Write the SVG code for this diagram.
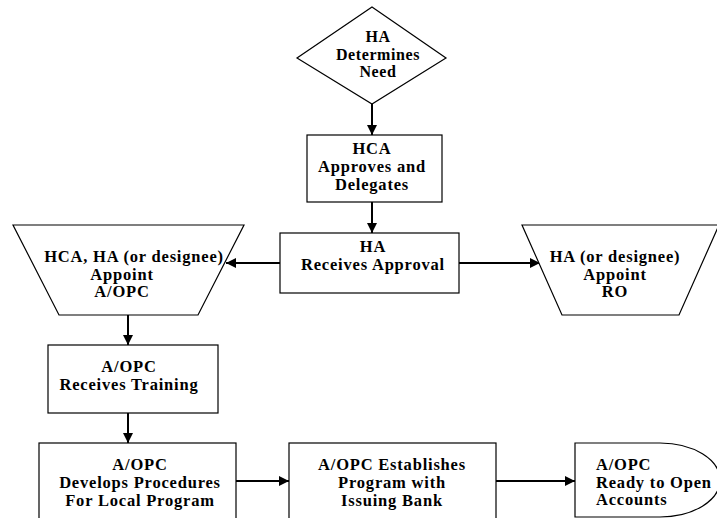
<svg xmlns="http://www.w3.org/2000/svg" width="717" height="518" viewBox="0 0 717 518">
<defs>
<style>
.s{fill:#fff;stroke:#000;stroke-width:1.2}
text{font-family:'Liberation Serif','Times New Roman',Times,serif;font-weight:bold;font-size:16.5px;letter-spacing:0.8px;fill:#000;text-anchor:middle}
.d{font-size:16px;letter-spacing:0.6px}
.l{text-anchor:start}
.c{stroke:#000;stroke-width:2;fill:none;marker-end:url(#ah)}
</style>
<marker id="ah" viewBox="0 0 10 10" refX="10" refY="5" markerWidth="5.5" markerHeight="5" orient="auto" markerUnits="strokeWidth">
<path d="M0,0 L10,5 L0,10 Z" fill="#000"/>
</marker>
</defs>
<rect width="717" height="518" fill="#fff"/>
<g id="connectors">
<line class="c" x1="372" y1="104" x2="372" y2="135"/>
<line class="c" x1="372" y1="202" x2="372" y2="233"/>
<line class="c" x1="280" y1="263" x2="226" y2="263"/>
<line class="c" x1="459" y1="263" x2="540" y2="263"/>
<line class="c" x1="128" y1="315" x2="128" y2="345"/>
<line class="c" x1="128" y1="413" x2="128" y2="443"/>
<line class="c" x1="236" y1="481" x2="289" y2="481"/>
<line class="c" x1="496" y1="481" x2="575" y2="481"/>
</g>
<g id="n1">
<polygon class="s" points="372,7 446,58 372,104 297,58"/>
<text class="d" x="378" y="42">HA</text>
<text class="d" x="378" y="60">Determines</text>
<text class="d" x="378" y="77">Need</text>
</g>
<g id="n2">
<rect class="s" x="307" y="135" width="135" height="67"/>
<text x="372" y="154">HCA</text>
<text x="372" y="172">Approves and</text>
<text x="372" y="190">Delegates</text>
</g>
<g id="n3">
<rect class="s" x="280" y="233" width="179" height="60"/>
<text x="373" y="252">HA</text>
<text x="373" y="270">Receives Approval</text>
</g>
<g id="n4">
<polygon class="s" points="13,225 244,225 198,315 59,315"/>
<text x="134" y="262">HCA, HA (or designee)</text>
<text x="122" y="280">Appoint</text>
<text x="122" y="297">A/OPC</text>
</g>
<g id="n5">
<polygon class="s" points="522,225 719,225 679,315 562,315"/>
<text x="615" y="262">HA (or designee)</text>
<text x="615" y="280">Appoint</text>
<text x="615" y="297">RO</text>
</g>
<g id="n6">
<rect class="s" x="48" y="345" width="170" height="68"/>
<text x="129" y="372">A/OPC</text>
<text x="129" y="390">Receives Training</text>
</g>
<g id="n7">
<rect class="s" x="39" y="443" width="197" height="80"/>
<text x="140" y="470">A/OPC</text>
<text x="140" y="488">Develops Procedures</text>
<text x="140" y="506">For Local Program</text>
</g>
<g id="n8">
<rect class="s" x="289" y="443" width="207" height="80"/>
<text x="392" y="470">A/OPC Establishes</text>
<text x="392" y="488">Program with</text>
<text x="392" y="506">Issuing Bank</text>
</g>
<g id="n9">
<path class="s" d="M575,443 H660 A60,37 0 0 1 660,517 H575 Z"/>
<text class="l" x="596" y="470">A/OPC</text>
<text class="l" x="596" y="488">Ready to Open</text>
<text class="l" x="596" y="505">Accounts</text>
</g>
</svg>
